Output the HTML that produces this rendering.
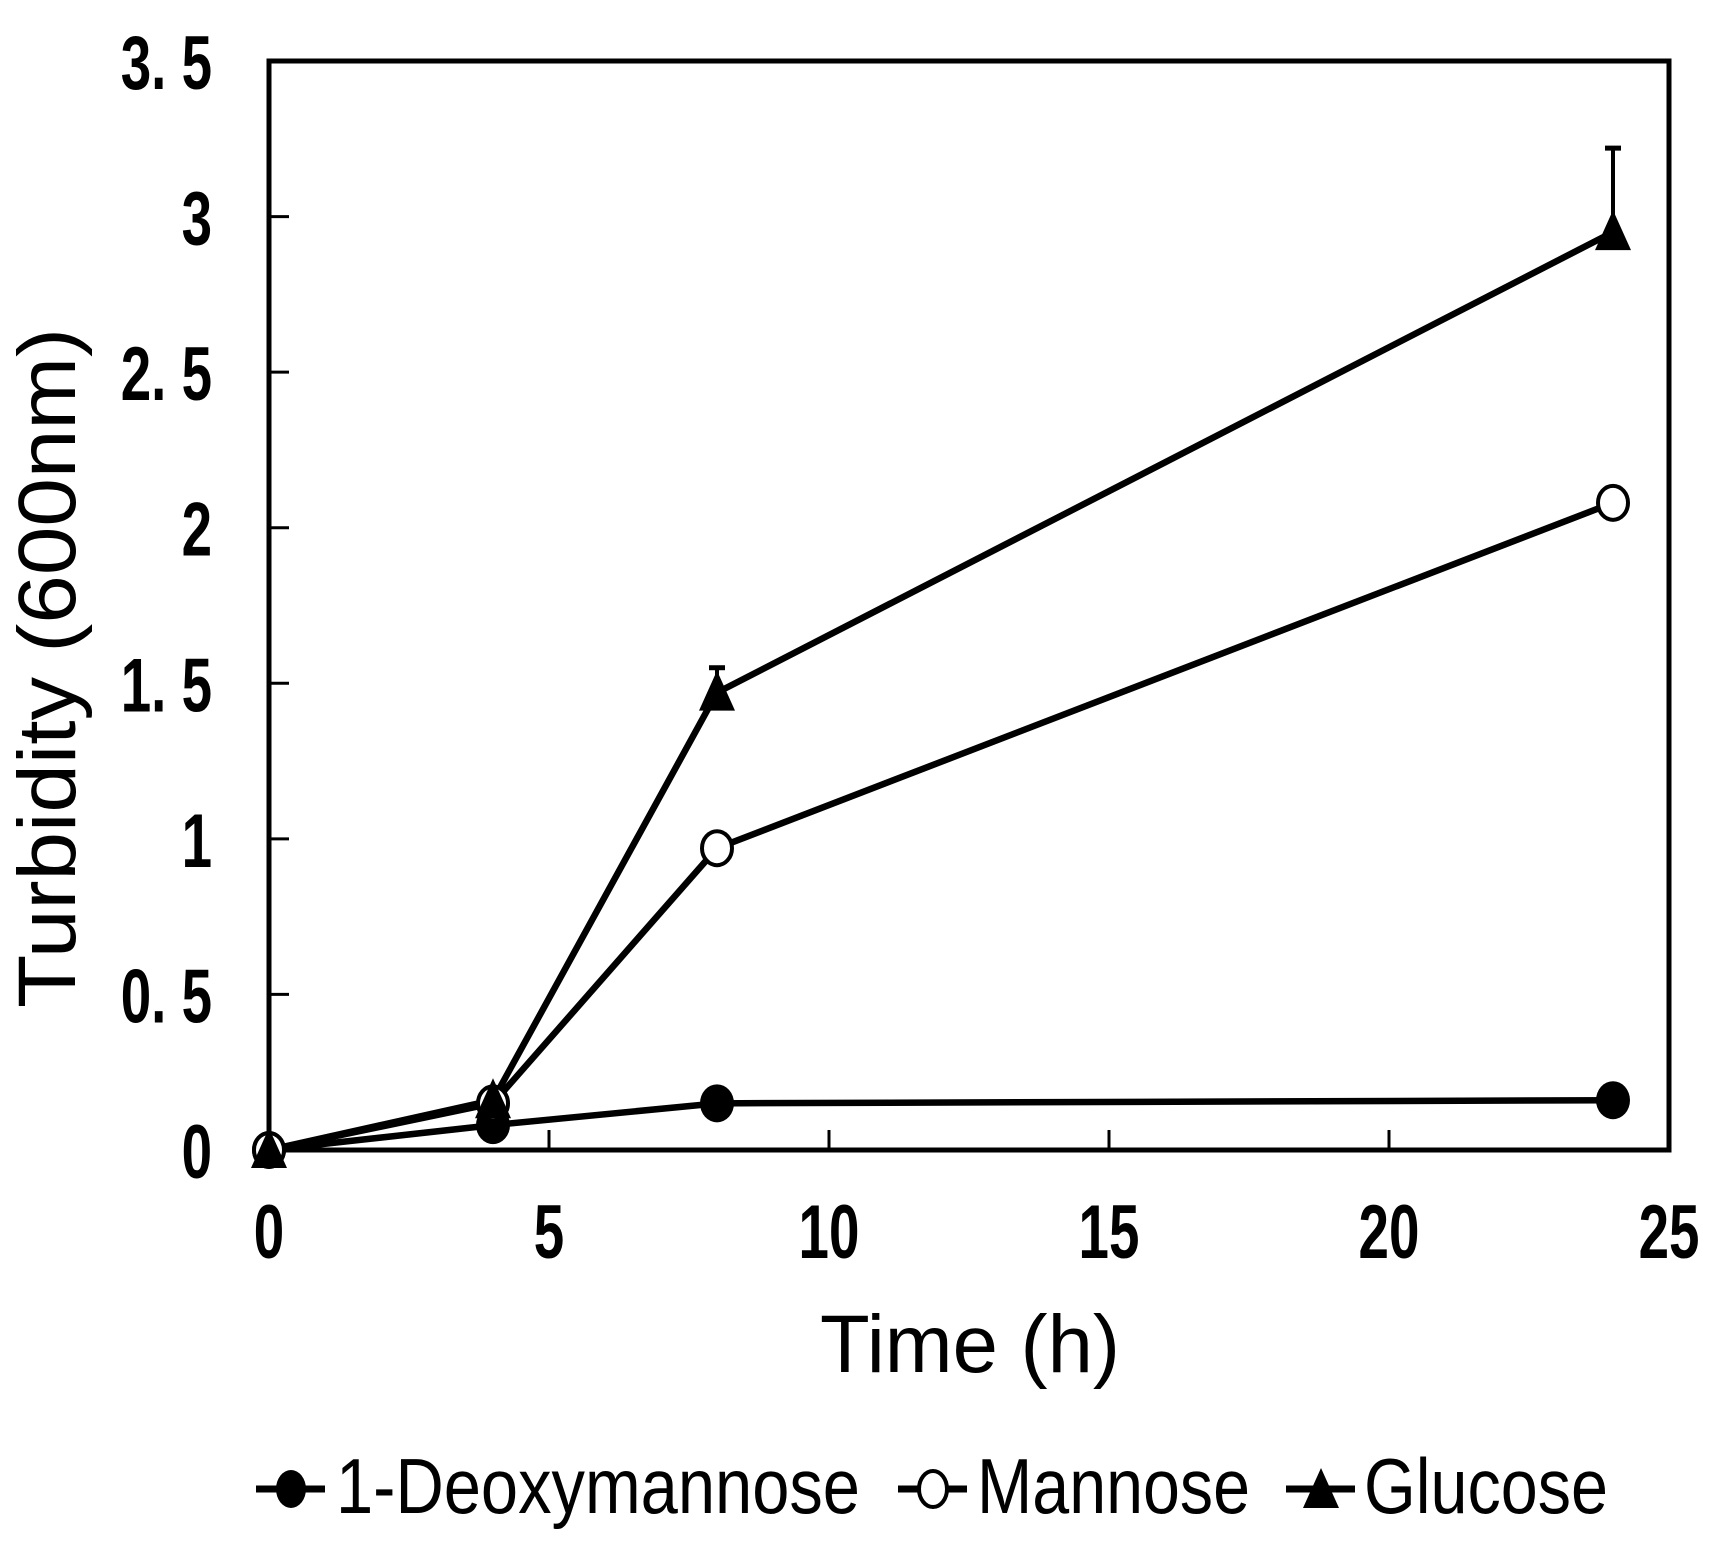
<!DOCTYPE html>
<html><head><meta charset="utf-8"><style>html,body{margin:0;padding:0;background:#fff}svg{display:block}</style></head>
<body>
<svg id="chart" width="1724" height="1553" viewBox="0 0 1724 1553" xmlns="http://www.w3.org/2000/svg" font-family="Liberation Sans, sans-serif">
<rect x="269" y="61" width="1400" height="1089" fill="none" stroke="#000" stroke-width="5"/>
<g id="ticks"></g>
<g id="series"></g>
<text x="970" y="1372" font-size="82" text-anchor="middle" textLength="300" lengthAdjust="spacingAndGlyphs">Time (h)</text>
<text transform="translate(75,668) rotate(-90)" font-size="82" text-anchor="middle" textLength="680" lengthAdjust="spacingAndGlyphs">Turbidity (600nm)</text>
<g>
 <g>
  <line x1="256" y1="1489" x2="325" y2="1489" stroke="#000" stroke-width="7"/>
  <ellipse cx="291" cy="1489" rx="15" ry="19" fill="#000"/>
  <text x="336" y="1513" font-size="78" textLength="524" lengthAdjust="spacingAndGlyphs">1-Deoxymannose</text>
 </g>
 <g>
  <line x1="898" y1="1489" x2="967" y2="1489" stroke="#000" stroke-width="7"/>
  <ellipse cx="933" cy="1489" rx="14" ry="18" fill="#fff" stroke="#000" stroke-width="4"/>
  <text x="977" y="1513" font-size="78" textLength="273" lengthAdjust="spacingAndGlyphs">Mannose</text>
 </g>
 <g>
  <line x1="1286" y1="1489" x2="1355" y2="1489" stroke="#000" stroke-width="7"/>
  <polygon points="1321,1468 1303,1508 1339,1508" fill="#000"/>
  <text x="1364" y="1513" font-size="78" textLength="244" lengthAdjust="spacingAndGlyphs">Glucose</text>
 </g>
</g>
</svg>
<script>
const times = [0, 4, 8, 24];
const deoxy = [0, 0.08, 0.15, 0.16];
const mannose = [0, 0.15, 0.97, 2.08];
const glucose = [0, 0.16, 1.47, 2.95];
const glucoseErr = [0, 0.02, 0.08, 0.27];
const xTicks = [0, 5, 10, 15, 20, 25];
const yTicks = [0, 0.5, 1, 1.5, 2, 2.5, 3, 3.5];
const yTickLabels = ["0", "0. 5", "1", "1. 5", "2", "2. 5", "3", "3. 5"];

const NS = "http://www.w3.org/2000/svg";
const X0 = 269, X1 = 1669, Y0 = 1150, Y1 = 61;
function sx(v){ return X0 + (v - 0) / 25 * (X1 - X0); }
function sy(v){ return Y0 - (v - 0) / 3.5 * (Y0 - Y1); }
function mk(tag, attrs, parent){ const e = document.createElementNS(NS, tag); for (const k in attrs) e.setAttribute(k, attrs[k]); parent.appendChild(e); return e; }

const tg = document.getElementById('ticks');
xTicks.forEach(function(t){
  if (t > 0 && t < 25) {
    const l = mk('line', {x1: sx(t), x2: sx(t), y1: Y0, y2: Y0 - 20, stroke: '#000', 'stroke-width': 3}, tg);
    
    
  }
  const tx = mk('text', {x: sx(t), y: 1258, 'font-size': 76, 'font-weight': 'bold', 'text-anchor': 'middle', transform: 'translate(' + sx(t) + ',0) scale(0.72,1) translate(' + (-sx(t)) + ',0)'}, tg);
  tx.textContent = String(t);
  
  
});
yTicks.forEach(function(t, i){
  if (t > 0 && t < 3.5) {
    const l = mk('line', {x1: X0, x2: X0 + 20, y1: sy(t), y2: sy(t), stroke: '#000', 'stroke-width': 3}, tg);
    
    
  }
  const tx = mk('text', {x: 212, y: sy(t) + 28, 'font-size': 76, 'font-weight': 'bold', 'text-anchor': 'end', transform: 'translate(212,0) scale(0.72,1) translate(-212,0)'}, tg);
  tx.textContent = yTickLabels[i];
  
  
});

const sg = document.getElementById('series');
glucoseErr.forEach(function(e, i){
  if (e <= 0.03) return;
  const g = mk('g', {}, sg);
  
  
  mk('line', {x1: sx(times[i]), x2: sx(times[i]), y1: sy(glucose[i]), y2: sy(glucose[i] + e), stroke: '#000', 'stroke-width': 4}, g);
  mk('line', {x1: sx(times[i]) - 8, x2: sx(times[i]) + 8, y1: sy(glucose[i] + e), y2: sy(glucose[i] + e), stroke: '#000', 'stroke-width': 5}, g);
});
function line(vals, name){
  const p = mk('polyline', {points: vals.map(function(v, i){ return sx(times[i]) + ',' + sy(v); }).join(' '), fill: 'none', stroke: '#000', 'stroke-width': 6.5, 'stroke-linejoin': 'round'}, sg);
  
  
}
line(deoxy, 'deoxymannose-line');
line(mannose, 'mannose-line');
line(glucose, 'glucose-line');
deoxy.forEach(function(v, i){
  const c = mk('ellipse', {cx: sx(times[i]), cy: sy(v), rx: 17, ry: 19, fill: '#000'}, sg);
  
  
});
mannose.forEach(function(v, i){
  const c = mk('ellipse', {cx: sx(times[i]), cy: sy(v), rx: 15, ry: 17, fill: '#fff', stroke: '#000', 'stroke-width': 4}, sg);
  
  
});
glucose.forEach(function(v, i){
  const x = sx(times[i]), y = sy(v);
  const t = mk('polygon', {points: x + ',' + (y - 22) + ' ' + (x - 18) + ',' + (y + 18) + ' ' + (x + 18) + ',' + (y + 18), fill: '#000'}, sg);
  
  
});
</script>
</body></html>
